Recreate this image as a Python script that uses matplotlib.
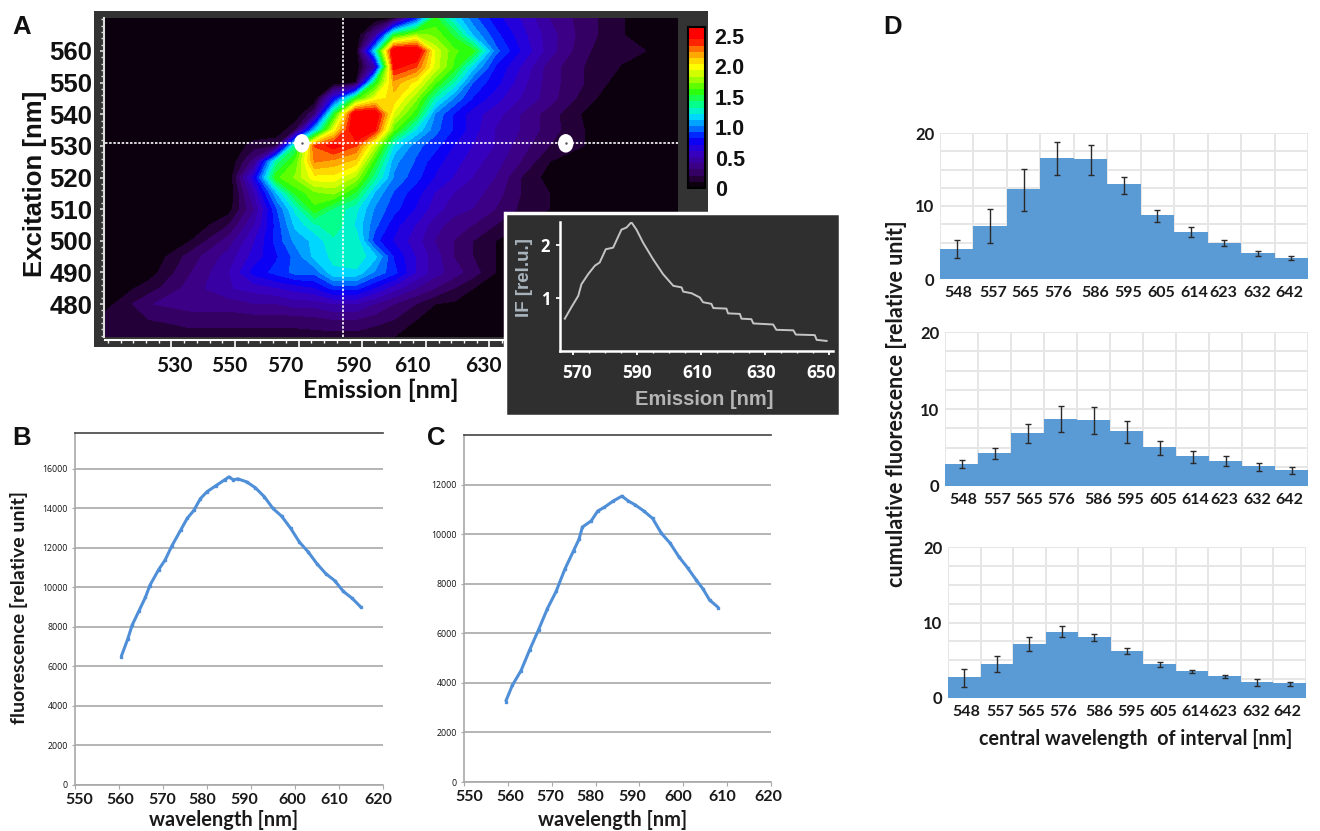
import numpy as np
import matplotlib
matplotlib.use("Agg")
import matplotlib.pyplot as plt
from matplotlib.colors import LinearSegmentedColormap
from matplotlib.patches import Ellipse, Rectangle
from matplotlib.transforms import Affine2D, ScaledTranslation

W, H = 1320, 831

# panel A, excitation-emission map
emission_grid = [509, 523, 536, 548, 556, 563, 569, 575, 581, 588, 594, 600,
                 607, 613, 619, 625, 632, 640, 649, 660, 671, 680, 689]
excitation_grid = [570.4, 565, 560, 555, 550, 545, 540, 535, 530, 525, 520,
                   515, 510, 505, 500, 495, 490, 485, 480, 475, 469.6]
intensity = [
    [0, 0, 0, 0, 0, 0, 0, 0, 0, 0, 0, .1, .8, 1.55, 1.2, .95, .75, .6, .4, .25, .12, 0, 0],
    [0, 0, 0, 0, 0, 0, 0, 0, 0, 0, .4, 1.5, 1.8, 1.7, 1.5, 1.1, .85, .65, .45, .25, .12, 0, 0],
    [0, 0, 0, 0, 0, 0, 0, 0, 0, 0, 1.2, 2.65, 2.65, 1.9, 1.65, 1.55, .95, .7, .45, .22, .12, .1, .1],
    [0, 0, 0, 0, 0, 0, 0, 0, 0, 0, .5, 2.5, 2.35, 1.9, 1.6, 1.15, .8, .6, .35, .2, .1, .1, .1],
    [0, 0, 0, 0, 0, 0, 0, 0, 0, .1, 1.5, 2.2, 2.0, 1.65, 1.3, .9, .75, .55, .35, .2, .05, 0, 0],
    [0, 0, 0, 0, 0, 0, 0, 0, .7, 1.55, 1.95, 2.1, 1.75, 1.3, 1.0, .8, .65, .5, .35, .15, 0, 0, 0],
    [0, 0, 0, 0, 0, 0, 0, .3, 1.5, 2.65, 2.6, 1.9, 1.55, 1.0, .8, .65, .55, .4, .25, .08, 0, 0, 0],
    [0, 0, 0, 0, 0, 0, .2, 1.1, 1.95, 2.65, 2.45, 1.65, 1.2, .95, .8, .65, .5, .4, .25, .1, 0, 0, 0],
    [0, 0, 0, 0, .15, .2, 1.4, 2.35, 2.5, 2.35, 1.85, 1.2, .95, .85, .7, .6, .5, .35, .2, .1, 0, 0, 0],
    [0, 0, 0, 0, .35, 1.35, 1.65, 2.25, 2.2, 2.1, 1.55, 1.05, .9, .75, .65, .55, .45, .3, .1, .05, 0, 0, 0],
    [0, 0, 0, 0, .7, 1.6, 1.75, 2.0, 2.0, 1.8, 1.35, 1.0, .85, .7, .6, .5, .4, .2, .05, 0, 0, 0, 0],
    [0, 0, 0, 0, .5, 1.1, 1.55, 1.7, 1.75, 1.5, 1.1, .9, .75, .6, .5, .45, .35, .2, .1, 0, 0, 0, 0],
    [0, 0, 0, .05, .4, .9, 1.25, 1.6, 1.4, 1.25, 1.0, .85, .7, .55, .45, .4, .3, .18, .1, 0, 0, 0, 0],
    [0, 0, 0, .2, .5, .85, 1.15, 1.3, 1.4, 1.2, .95, .75, .6, .45, .35, .3, .2, .1, .05, 0, 0, 0, 0],
    [0, 0, .1, .35, .6, .85, 1.05, 1.15, 1.3, 1.3, .85, .7, .55, .4, .3, .2, .1, .05, 0, 0, 0, 0, 0],
    [0, 0, .25, .45, .65, .8, .95, 1.15, 1.25, 1.3, 1.15, .8, .6, .45, .3, .2, .1, .05, 0, 0, 0, 0, 0],
    [0, .05, .3, .5, .75, .85, .95, .95, 1.2, 1.2, 1.0, .85, .6, .45, .35, .25, .1, .05, 0, 0, 0, 0, 0],
    [0, .15, .35, .5, .55, .6, .65, .7, .85, .85, .7, .55, .4, .3, .2, .1, .05, 0, 0, 0, 0, 0, 0],
    [.05, .3, .35, .35, .4, .4, .45, .45, .5, .5, .4, .3, .2, .1, .08, .05, 0, 0, 0, 0, 0, 0, 0],
    [.15, .2, .25, .25, .25, .25, .25, .27, .3, .3, .25, .2, .1, .05, .05, .02, 0, 0, 0, 0, 0, 0, 0],
    [.1, .15, .15, .15, .15, .15, .15, .15, .15, .15, .12, .1, .05, 0, 0, 0, 0, 0, 0, 0, 0, 0, 0],
]
crosshair_emission = 583.9
crosshair_excitation = 530.8
spot_emission = [571, 654]
emission_ticks = [530, 550, 570, 590, 610, 630]
excitation_ticks = [480, 490, 500, 510, 520, 530, 540, 550, 560]
colorbar_ticks = [0, 0.5, 1.0, 1.5, 2.0, 2.5]
colorbar_labels = ["0", "0.5", "1.0", "1.5", "2.0", "2.5"]

# inset of panel A
inset_nm = [567.4, 569.5, 571.6, 572.6, 574.7, 576.8, 578.3, 580.2, 582.5, 585.1,
            586.7, 588.2, 589.8, 591.9, 595, 598.1, 601.3, 603.9, 604.4, 607,
            609.6, 610.6, 613.2, 613.8, 617.9, 618.4, 622.1, 622.6, 625.7, 626.3,
            632.5, 633.5, 638.8, 639.6, 645.5, 646.1, 649.2]
inset_if = [.61, .83, 1.04, 1.26, 1.45, 1.61, 1.67, 1.92, 1.95, 2.29,
            2.33, 2.43, 2.29, 2.04, 1.73, 1.45, 1.23, 1.20, 1.12, 1.09,
            1.01, .92, .89, .81, .80, .71, .70, .61, .60, .52,
            .50, .40, .39, .31, .30, .21, .19]

# panels B and C
b_nm = [560.5, 562, 563, 564.5, 566, 567, 569, 570.5, 572, 574, 575.5, 577, 578.5,
        580, 582, 584, 585, 586, 587, 589, 591, 593, 595, 597, 599, 601, 603, 605,
        607, 609, 611, 613, 615]
b_val = [6500, 7400, 8100, 8800, 9500, 10100, 10900, 11400, 12100, 12900, 13500,
         13900, 14500, 14850, 15150, 15450, 15600, 15450, 15500, 15350, 15050, 14600,
         14000, 13600, 13000, 12300, 11800, 11200, 10700, 10350, 9800, 9450, 9000]
c_nm = [559.5, 561, 563, 565, 567, 569, 571, 573, 575, 576.2, 577, 579, 580.5, 582,
        584, 586, 587.5, 589, 591, 593, 595, 597, 599, 601, 603, 604.5, 606, 608]
c_val = [3250, 3900, 4500, 5350, 6150, 7000, 7700, 8600, 9350, 9800, 10300, 10550,
         10950, 11100, 11350, 11550, 11350, 11200, 10950, 10650, 10050, 9650, 9100,
         8650, 8150, 7800, 7350, 7050]
wl_ticks = [550, 560, 570, 580, 590, 600, 610, 620]

# panel D
intervals = ["548", "557", "565", "576", "586", "595", "605", "614", "623", "632", "642"]
d1_val = [4.1, 7.3, 12.3, 16.6, 16.5, 13, 8.7, 6.5, 5, 3.5, 2.9]
d1_low = [2.9, 4.9, 9.3, 14.2, 14.2, 11.7, 7.8, 5.8, 4.5, 3.1, 2.6]
d1_high = [5.3, 9.6, 15.1, 18.7, 18.4, 14, 9.5, 7.1, 5.4, 3.9, 3.1]
d2_val = [2.9, 4.3, 6.9, 8.7, 8.6, 7.1, 5.05, 3.9, 3.3, 2.55, 2.1]
d2_low = [2.3, 3.55, 5.6, 7.0, 6.8, 5.6, 4, 3.0, 2.6, 2, 1.6]
d2_high = [3.4, 5.0, 8.1, 10.4, 10.3, 8.4, 5.9, 4.6, 3.85, 3.0, 2.5]
d3_val = [2.8, 4.55, 7.1, 8.75, 8.1, 6.25, 4.55, 3.6, 2.9, 2.15, 1.95]
d3_low = [1.5, 3.45, 6.2, 8.1, 7.55, 5.8, 4.15, 3.25, 2.6, 1.65, 1.6]
d3_high = [3.9, 5.55, 8.05, 9.5, 8.5, 6.6, 4.75, 3.75, 3.1, 2.5, 2.1]

BLUE = "#5b9bd5"
plt.rcParams["font.family"] = ["Lato", "DejaVu Sans"]

fig = plt.figure(figsize=(W / 100, H / 100), dpi=100, facecolor="white")
PX = Affine2D().scale(1, -1).translate(0, H)


def px_axes(left, top, right, bottom, **kw):
    return fig.add_axes([left / W, 1 - bottom / H, (right - left) / W, (bottom - top) / H], **kw)


def shift_labels(labels, dx):
    for lab, d in zip(labels, dx):
        lab.set_transform(lab.get_transform() + ScaledTranslation(d / 100, 0, fig.dpi_scale_trans))


def panel_letter(s, x, y):
    fig.text(x, y, s, transform=PX, family="Liberation Sans", fontsize=18.5, weight="bold",
             ha="center", va="center", color="#111111")


# panel A
fig.add_artist(Rectangle((94, 11), 614, 336, transform=PX, facecolor="#333333", edgecolor="none", zorder=-1))
ax = px_axes(105, 18, 678, 337, facecolor="black")
cmap_pts = [(0, "#000000"), (0.1, "#1c0024"), (0.3, "#3c0078"), (0.6, "#3500c8"), (0.8, "#0000ff"),
            (1.0, "#0080ff"), (1.2, "#00e4ff"), (1.35, "#00ff9a"), (1.6, "#30ff00"),
            (1.85, "#c0ff00"), (2.0, "#ffff00"), (2.25, "#ff9000"), (2.45, "#ff0000"), (2.65, "#ff0000")]
cmap = LinearSegmentedColormap.from_list("fl", [(v / 2.65, c) for v, c in cmap_pts])
levels = np.linspace(0, 2.65, 27)
cs = ax.contourf(emission_grid, excitation_grid, np.array(intensity), levels=levels, cmap=cmap,
                 vmin=0, vmax=2.65)
ax.set_xlim(509.1, 689.3)
ax.set_ylim(469.6, 570.4)
ax.axvline(crosshair_emission, color="white", ls=(0, (1.5, 1)), lw=1.2)
ax.axhline(crosshair_excitation, color="white", ls=(0, (1.5, 1)), lw=1.2)
for e in spot_emission:
    ax.add_patch(Ellipse((e, crosshair_excitation), 4.4, 5.4, color="white", zorder=5))
    ax.plot([e], [crosshair_excitation], marker=".", ms=1.5, color="#555555", zorder=6)
for s in ax.spines.values():
    s.set_visible(False)
ax.spines["bottom"].set_visible(True)
ax.spines["bottom"].set_color("white")
ax.spines["bottom"].set_linewidth(1.5)
ax.spines["bottom"].set_position(("outward", 2))
ax.spines["left"].set_visible(True)
ax.spines["left"].set_color("#dddddd")
ax.spines["left"].set_linewidth(1.5)
ax.spines["left"].set_position(("outward", 1))
ax.set_xticks(emission_ticks, emission_ticks, family="Lato", fontsize=15, weight="bold")
ax.set_xticks(np.arange(510, 650, 4), minor=True)
ax.set_yticks(excitation_ticks, excitation_ticks, family="Liberation Sans", fontsize=18.5, weight="bold")
ax.set_yticks(np.arange(470, 571, 2), minor=True)
ax.tick_params(axis="x", which="major", colors="white", length=5, width=1.2, pad=7, labelcolor="#111111")
ax.tick_params(axis="x", which="minor", colors="white", length=2, width=1)
ax.tick_params(axis="y", which="major", colors="#dddddd", length=3, width=1.2, pad=5, labelcolor="#111111")
ax.tick_params(axis="y", which="minor", colors="#dddddd", length=2, width=1)
shift_labels(ax.get_xticklabels(), [3, -6, -13, -9, -14, -6])
ax.set_xlabel("Emission [nm]", family="Lato", fontsize=18, weight="bold", color="#111111")
ax.xaxis.set_label_coords(381, 379, transform=PX)
ax.set_ylabel("Excitation [nm]", family="Liberation Sans", fontsize=18.5, weight="bold", color="#111111")
ax.yaxis.set_label_coords(47, 184, transform=PX)

cax = px_axes(688, 27, 705, 188)
cb = fig.colorbar(cs, cax=cax, ticks=colorbar_ticks)
cb.ax.set_yticklabels(colorbar_labels, family="Liberation Sans", fontsize=15.5, weight="bold", color="#111111")
cb.ax.tick_params(length=0, pad=7)
cb.outline.set_edgecolor("black")
cb.outline.set_linewidth(1.5)

# inset of panel A
fig.add_artist(Rectangle((505, 213), 335, 203, transform=PX, facecolor="#2f2f2f",
                         edgecolor="white", linewidth=2.5, zorder=3))
ins = px_axes(560, 222, 833, 351, facecolor="#2f2f2f")
ins.set_zorder(4)
ins.plot(inset_nm, inset_if, color="#c4c4c4", lw=1.4)
ins.set_xlim(565.9, 651.2)
ins.set_ylim(0, 129 / 53)
for side in ["top", "right"]:
    ins.spines[side].set_visible(False)
for side in ["left", "bottom"]:
    ins.spines[side].set_color("white")
    ins.spines[side].set_linewidth(1.8)
ins.set_xticks([570, 590, 610, 630, 650], ["570", "590", "610", "630", "650"], family="Open Sans",
               fontsize=12.5, weight="bold")
ins.set_xticks(np.arange(570, 651, 5), minor=True)
ins.set_yticks([1, 2], ["1", "2"], family="Open Sans", fontsize=12, weight="bold")
ins.tick_params(axis="x", which="major", colors="white", length=3, width=1.3, pad=6)
ins.tick_params(axis="x", which="minor", colors="white", length=1.5, width=1)
ins.tick_params(axis="y", colors="white", length=3, width=1.3, pad=4)
shift_labels(ins.get_xticklabels(), [4, 0, -4, -4, -8])
ins.set_xlabel("Emission [nm]", family="Liberation Sans", fontsize=14.5, weight="bold", color="#b5b5b5")
ins.xaxis.set_label_coords(704, 390, transform=PX)
ins.set_ylabel("IF [rel.u.]", family="Liberation Sans", fontsize=13.5, weight="bold", color="#a9b4bd")
ins.yaxis.set_label_coords(533, 278, transform=PX)


def curve_panel(box, xs, ys, ymax, yticks, dx, ylabel=None):
    a = px_axes(*box)
    a.plot(xs, ys, color="#4f8fd8", lw=2.2, marker="s", ms=1.8, solid_capstyle="butt")
    a.set_xlim(550, 620)
    a.set_ylim(0, ymax)
    a.grid(axis="y", color="#b4b4b4", lw=1.4)
    a.set_axisbelow(True)
    a.spines["right"].set_visible(False)
    a.spines["top"].set_color("#444444")
    a.spines["top"].set_linewidth(1.2)
    for side in ["left", "bottom"]:
        a.spines[side].set_color("#a8a8a8")
        a.spines[side].set_linewidth(1.2)
    a.set_xticks(wl_ticks, wl_ticks, fontsize=11.5, weight="bold", color="#1a1a1a")
    a.set_yticks(yticks, yticks, family="Open Sans", fontsize=6.3, color="#111111")
    a.tick_params(axis="x", length=3, color="#a8a8a8", pad=3)
    a.tick_params(axis="y", length=2, color="#a8a8a8", pad=3)
    shift_labels(a.get_xticklabels(), dx)
    a.set_xlabel("wavelength [nm]", fontsize=14.4, weight="bold", color="#1a1a1a")
    a.xaxis.set_label_coords((box[0] + box[2]) / 2 - 5, 810, transform=PX)
    if ylabel:
        a.set_ylabel(ylabel, fontsize=14, weight="bold", color="#1a1a1a")
        a.yaxis.set_label_coords(28, 608, transform=PX)
    return a


curve_panel((75, 433, 383, 785), b_nm, b_val, 17822, list(range(0, 16001, 2000)),
            [4, 1, -1, -5, -7, -3, -5, -5], "fluorescence [relative unit]")
curve_panel((464, 435, 771, 782), c_nm, c_val, 14020, list(range(0, 12001, 2000)),
            [5, 2, -1, -5, -7, -5, -5, -3])


def bar_panel(box, vals, low, high):
    a = px_axes(*box)
    pos = np.arange(len(intervals))
    vals = np.array(vals)
    a.bar(pos, vals, width=1.0, color=BLUE, linewidth=0, zorder=2)
    a.errorbar(pos, vals, yerr=[vals - np.array(low), np.array(high) - vals], fmt="none",
               ecolor="#2a2a2a", elinewidth=1, capsize=2, capthick=1, zorder=3)
    a.set_xlim(-0.5, 10.5)
    a.set_ylim(0, 20)
    a.set_xticks(pos, intervals, fontsize=11.5, weight="bold", color="#1a1a1a")
    a.set_xticks(np.arange(-0.5, 11), minor=True)
    a.set_yticks(np.arange(0, 21, 2.5), ["0", "", "", "", "10", "", "", "", "20"], fontsize=12,
                 weight="bold", color="#1a1a1a")
    a.grid(which="minor", axis="x", color="#e6e6e6", lw=1.4, zorder=0)
    a.grid(which="major", axis="y", color="#e6e6e6", lw=1.4, zorder=0)
    a.set_axisbelow(True)
    a.tick_params(which="both", length=0)
    a.tick_params(axis="x", pad=5)
    a.tick_params(axis="y", pad=4)
    shift_labels(a.get_xticklabels(), [2, 3, 2, 1, 5, 4, 4, 3, -1, -1, -2])
    for s in a.spines.values():
        s.set_visible(False)
    return a


bar_panel((940, 133, 1308, 279), d1_val, d1_low, d1_high)
mid = bar_panel((945, 332, 1308, 486), d2_val, d2_low, d2_high)
low = bar_panel((948, 547, 1306, 698), d3_val, d3_low, d3_high)
low.set_xlabel("central wavelength  of interval [nm]", fontsize=14.2, weight="bold", color="#1a1a1a")
low.xaxis.set_label_coords(1136, 729, transform=PX)
mid.set_ylabel("cumulative fluorescence [relative unit]", fontsize=15.5, weight="bold", color="#1a1a1a")
mid.yaxis.set_label_coords(907, 404, transform=PX)

panel_letter("A", 22, 27)
panel_letter("B", 22, 438)
panel_letter("C", 436, 438)
panel_letter("D", 893, 27)

fig.savefig("out.png", dpi=100)
